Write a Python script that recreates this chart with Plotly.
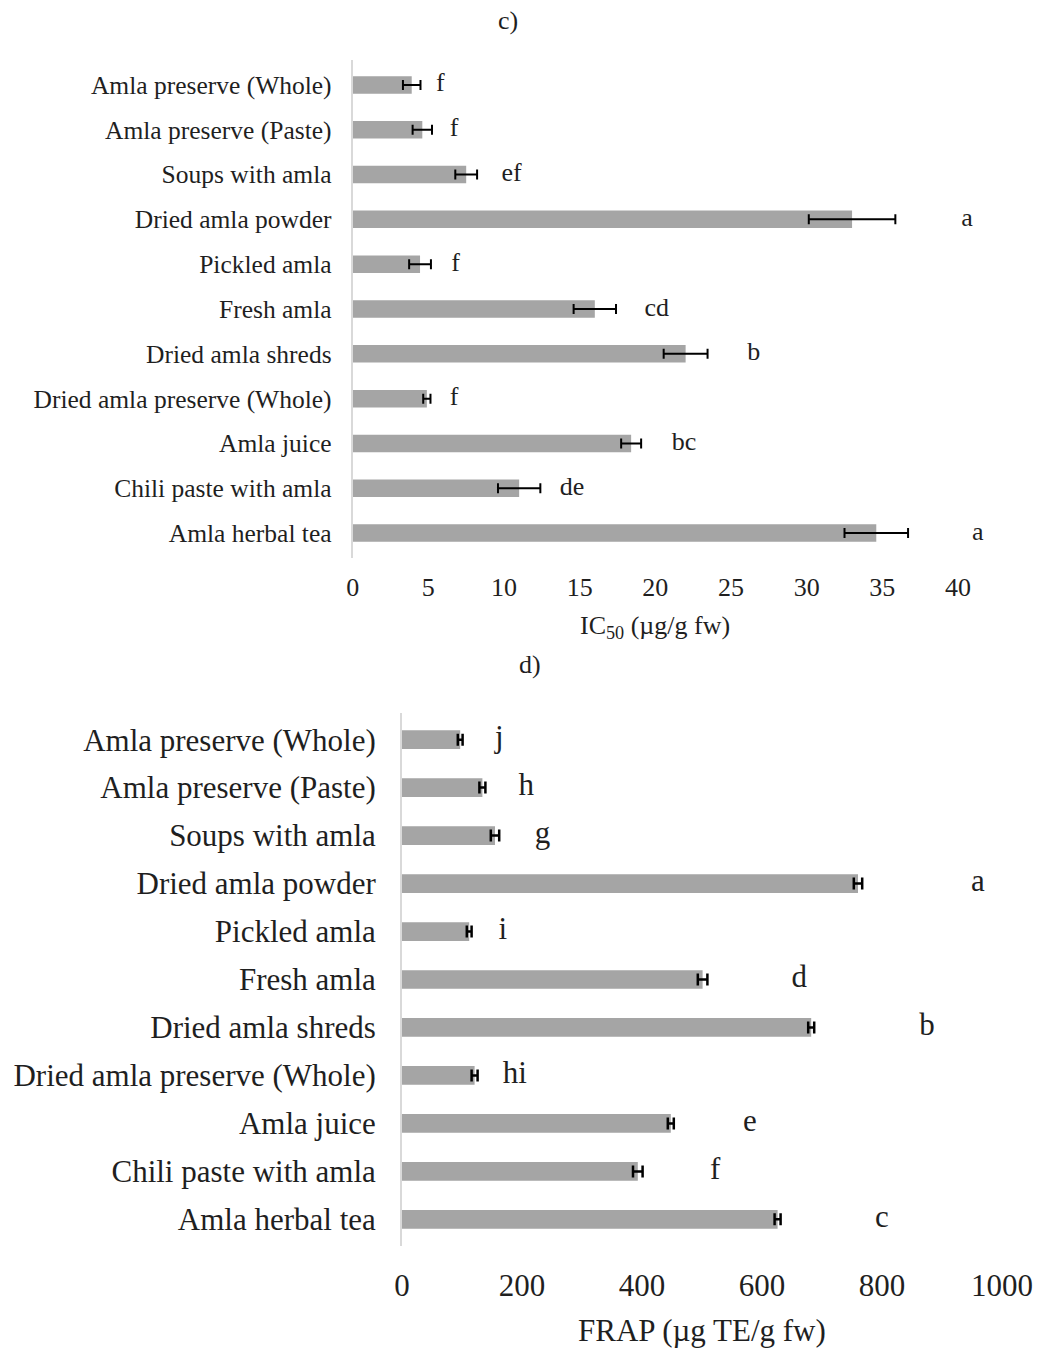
import plotly.graph_objects as go

categories = [
    "Amla preserve (Whole)",
    "Amla preserve (Paste)",
    "Soups with amla",
    "Dried amla powder",
    "Pickled amla",
    "Fresh amla",
    "Dried amla shreds",
    "Dried amla preserve (Whole)",
    "Amla juice",
    "Chili paste with amla",
    "Amla herbal tea",
]

# c) IC50 (ug/g fw)
ic50_values = [3.9, 4.6, 7.5, 33.0, 4.45, 16.0, 22.0, 4.9, 18.4, 11.0, 34.6]
ic50_errors = [0.58, 0.64, 0.72, 2.86, 0.72, 1.4, 1.45, 0.24, 0.66, 1.4, 2.1]
ic50_letters = ["f", "f", "ef", "a", "f", "cd", "b", "f", "bc", "de", "a"]

# d) FRAP (ug TE/g fw)
frap_values = [97, 134, 155, 760, 112, 501, 682, 121, 448, 393, 626]
frap_errors = [4, 5, 7, 7, 4, 8, 5, 5, 5, 8, 5]
frap_letters = ["j", "h", "g", "a", "i", "d", "b", "hi", "e", "f", "c"]

# label placement (in axis units)
ic50_letter_pos = [5.8, 6.7, 10.5, 40.6, 6.8, 20.1, 26.5, 6.7, 21.9, 14.5, 41.3]
frap_letter_pos = [162, 207, 234, 960, 168, 662, 875, 188, 580, 522, 800]

W, H = 1038, 1349
FONT = "Times New Roman, Liberation Serif, serif"
TXT = "#1f1f1f"
BAR = "#a5a5a5"

fig = go.Figure()

fig.add_trace(go.Bar(
    x=ic50_values, y=categories, orientation="h",
    marker=dict(color=BAR, line=dict(width=0)),
    error_x=dict(type="data", array=ic50_errors, color="black", thickness=2, width=5),
    xaxis="x", yaxis="y", showlegend=False, hoverinfo="skip",
))
fig.add_trace(go.Scatter(
    x=ic50_letter_pos, y=categories, mode="text", text=ic50_letters,
    textposition="middle center", textfont=dict(family=FONT, size=26, color=TXT),
    cliponaxis=False, xaxis="x", yaxis="y", showlegend=False, hoverinfo="skip",
))
fig.add_trace(go.Bar(
    x=frap_values, y=categories, orientation="h",
    marker=dict(color=BAR, line=dict(width=0)),
    error_x=dict(type="data", array=frap_errors, color="black", thickness=2.5, width=6),
    xaxis="x2", yaxis="y2", showlegend=False, hoverinfo="skip",
))
fig.add_trace(go.Scatter(
    x=frap_letter_pos, y=categories, mode="text", text=frap_letters,
    textposition="middle center", textfont=dict(family=FONT, size=31, color=TXT),
    cliponaxis=False, xaxis="x2", yaxis="y2", showlegend=False, hoverinfo="skip",
))

def px_x(p):
    return p / W

def px_y(p):
    return 1 - p / H

axis_common = dict(showgrid=False, zeroline=False, fixedrange=True, automargin=False)

def note(text, xp, yp, size):
    return dict(text=text, x=px_x(xp), y=px_y(yp), xref="paper", yref="paper",
                xanchor="center", yanchor="middle", showarrow=False,
                font=dict(size=size, family=FONT, color=TXT))

# top panel: 0 at 352.7 px, 40 at 958 px; range extended to 42 so the far letters stay visible
top_left, top_40 = 352.7, 958.0
top_right = top_left + (top_40 - top_left) * 42 / 40

fig.update_layout(
    width=W, height=H,
    margin=dict(l=0, r=0, t=0, b=0, pad=0),
    paper_bgcolor="white", plot_bgcolor="white",
    bargap=0.61,
    font=dict(family=FONT, color=TXT),
    xaxis=dict(domain=[px_x(top_left), px_x(top_right)], range=[0, 42],
               tickmode="array", tickvals=[0, 5, 10, 15, 20, 25, 30, 35, 40],
               showline=False, ticks="", ticklabelstandoff=11,
               tickfont=dict(size=26, family=FONT, color=TXT), anchor="y", **axis_common),
    yaxis=dict(domain=[px_y(558), px_y(60)], autorange="reversed", type="category",
               showline=True, linecolor="#d9d9d9", linewidth=2, ticks="",
               ticklabelstandoff=14,
               tickfont=dict(size=25.5, family=FONT, color=TXT), anchor="x", **axis_common),
    xaxis2=dict(domain=[px_x(402), px_x(1002)], range=[0, 1000], dtick=200,
                showline=False, ticks="", ticklabelstandoff=18,
                tickfont=dict(size=31, family=FONT, color=TXT), anchor="y2", **axis_common),
    yaxis2=dict(domain=[px_y(1246), px_y(713)], autorange="reversed", type="category",
                showline=True, linecolor="#d9d9d9", linewidth=2, ticks="",
                ticklabelstandoff=18,
                tickfont=dict(size=31, family=FONT, color=TXT), anchor="x2", **axis_common),
    annotations=[
        note("c)", 508, 20, 26),
        note("IC<sub>50</sub> (µg/g fw)", 655, 627, 26),
        note("d)", 530, 664, 26),
        note("FRAP (µg TE/g fw)", 702, 1330, 31),
    ],
)

fig.write_html("out.html", config={"displayModeBar": False},
               post_script="document.body.style.margin='0';document.body.style.overflow='hidden';")
